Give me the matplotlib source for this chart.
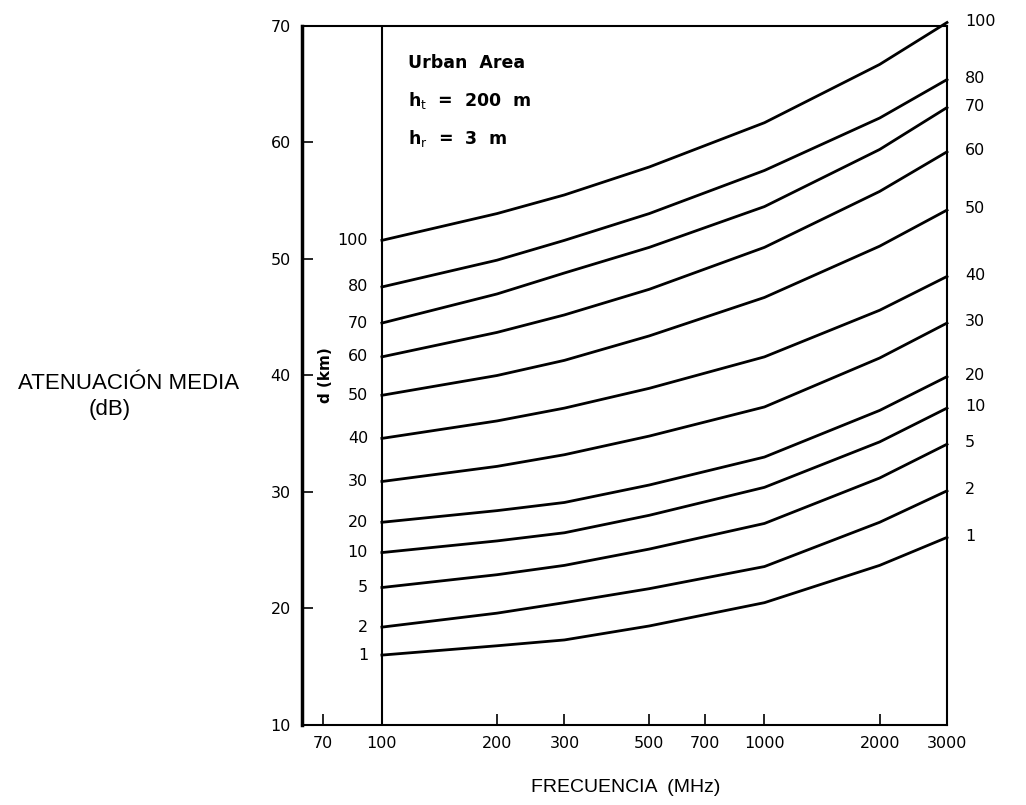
import numpy as np
import matplotlib.pyplot as plt

# frequency (MHz) where the curves were read
freqs = [100, 200, 300, 500, 1000, 2000, 3000]

# distance d (km) for each curve
distances = [100, 80, 70, 60, 50, 40, 30, 20, 10, 5, 2, 1]

# median attenuation (dB) read at each frequency, one row per distance
attenuation = [
    [51.6, 53.9, 55.5, 57.9, 61.7, 66.7, 70.3],
    [47.6, 49.9, 51.6, 53.9, 57.6, 62.1, 65.4],
    [44.5, 47.0, 48.8, 51.0, 54.5, 59.4, 63.0],
    [41.6, 43.7, 45.2, 47.4, 51.0, 55.8, 59.2],
    [38.3, 40.0, 41.3, 43.4, 46.7, 51.1, 54.2],
    [34.6, 36.1, 37.2, 38.9, 41.6, 45.6, 48.5],
    [30.9, 32.2, 33.2, 34.8, 37.3, 41.5, 44.5],
    [27.4, 28.4, 29.1, 30.6, 33.0, 37.0, 39.9],
    [24.8, 25.8, 26.5, 28.0, 30.4, 34.3, 37.2],
    [21.8, 22.9, 23.7, 25.1, 27.3, 31.2, 34.1],
    [18.4, 19.6, 20.5, 21.7, 23.6, 27.4, 30.1],
    [16.0, 16.8, 17.3, 18.5, 20.5, 23.7, 26.1],
]

xticks = [70, 100, 200, 300, 500, 700, 1000, 2000, 3000]
yticks = [10, 20, 30, 40, 50, 60, 70]

fig = plt.figure(figsize=(10.26, 8.05), dpi=100)
ax = fig.add_axes([0.2943, 0.0994, 0.6287, 0.8683])

for d, row in zip(distances, attenuation):
    ax.plot(freqs, row, color="black", lw=2, clip_on=False)
    ax.annotate(str(d), (freqs[0], row[0]), xytext=(-10, 0), textcoords="offset points",
                ha="right", va="center", fontsize=11.5, annotation_clip=False)
    ax.annotate(str(d), (freqs[-1], row[-1]), xytext=(13, 1), textcoords="offset points",
                ha="left", va="center", fontsize=11.5, annotation_clip=False)

ax.axvline(100, color="black", lw=1.5)

ax.set_xscale("log")
ax.set_xlim(61.8, 3000)
ax.set_ylim(10, 70)
ax.set_xticks(xticks)
ax.set_xticklabels([str(t) for t in xticks])
ax.minorticks_off()
ax.set_yticks(yticks)
ax.tick_params(direction="in", length=8, width=1.2, labelsize=11.5, pad=8)

for s in ax.spines.values():
    s.set_linewidth(1.5)
ax.spines["left"].set_linewidth(2.5)

ax.text(0.165, 0.947, "Urban  Area", transform=ax.transAxes, fontsize=12.5, va="center",
        fontweight="semibold")
ax.text(0.165, 0.893, r"h$_{\mathrm{t}}$  =  200  m", transform=ax.transAxes, fontsize=12.5,
        va="center", fontweight="semibold")
ax.text(0.165, 0.839, r"h$_{\mathrm{r}}$  =  3  m", transform=ax.transAxes, fontsize=12.5,
        va="center", fontweight="semibold")

ax.text(0.036, 0.50, "d (km)", transform=ax.transAxes, rotation=90, fontsize=11,
        fontweight="bold", ha="center", va="center")

fig.text(129 / 1026, 1 - 383 / 805, "ATENUACIÓN MEDIA", fontsize=16, family="Liberation Sans",
         ha="center", va="center")
fig.text(110 / 1026, 1 - 410 / 805, "(dB)", fontsize=16, family="Liberation Sans",
         ha="center", va="center")
fig.text(626 / 1026, 1 - 787 / 805, "FRECUENCIA  (MHz)", fontsize=14, family="Liberation Sans",
         ha="center", va="center")

fig.savefig("out.png", dpi=100)
